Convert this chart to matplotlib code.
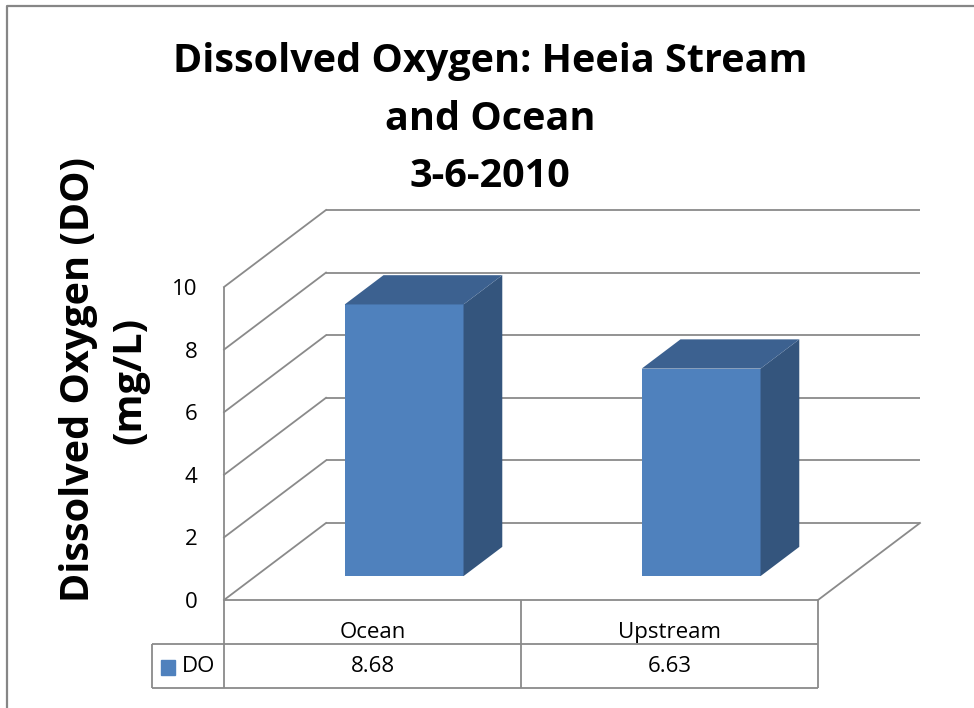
import matplotlib
matplotlib.use("Agg")
import matplotlib.pyplot as plt
import matplotlib.transforms as mtransforms
from matplotlib.patches import Polygon, Rectangle
from matplotlib.lines import Line2D

categories = ["Ocean", "Upstream"]
do_values = [8.68, 6.63]
series_name = "DO"
y_ticks = [0, 2, 4, 6, 8, 10]
value_labels = ["8.68", "6.63"]
title_text = "Dissolved Oxygen: Heeia Stream\nand Ocean\n3-6-2010"
ylabel_text = "Dissolved Oxygen (DO)\n(mg/L)"

FONT = "Open Sans"
FRONT = "#4f81bd"
SIDE = "#34557d"
TOP = "#3c6190"
GRID = "#8a8a8a"

W, H = 974, 708
DX, DY = 102, 77          # pixel shift from front plane to back wall
BAR_W = 0.4
D0, D1 = 0.31, 0.69       # bar depth range (0 = front, 1 = back)

plt.rcParams["font.family"] = [FONT, "DejaVu Sans"]

fig = plt.figure(figsize=(W / 100, H / 100), dpi=100)


def px_box(left, top, right, bottom):
    return [left / W, 1 - bottom / H, (right - left) / W, (bottom - top) / H]


# front plane of the 3d box
ax = fig.add_axes(px_box(224, 287, 818, 600))
ax.set_xlim(0, len(categories))
ax.set_ylim(0, 10)
for s in ax.spines.values():
    s.set_visible(False)
ax.set_xticks([])
ax.set_yticks(y_ticks)
ax.tick_params(axis="y", length=0, pad=19, labelsize=16)
ax.patch.set_visible(False)


def depth(f):
    return ax.transData + mtransforms.Affine2D().translate(DX * f, DY * f)


def proj(x, v, d):
    px, py = ax.transData.transform((x, v))
    return px + DX * d, py + DY * d


def seg(p, q, **kw):
    a, b = proj(*p), proj(*q)
    fig.add_artist(Line2D([a[0], b[0]], [a[1], b[1]],
                          transform=mtransforms.IdentityTransform(), **kw))


line_kw = dict(color=GRID, lw=1.3)
n = len(categories)

# back wall gridlines
ax.hlines(y_ticks, 0, n, transform=depth(1), clip_on=False, **line_kw)
# side wall lines
for v in y_ticks:
    seg((0, v, 0), (0, v, 1), **line_kw)
# floor edges and left edge
ax.hlines(0, 0, n, transform=depth(0), clip_on=False, **line_kw)
seg((n, 0, 0), (n, 0, 1), **line_kw)
ax.vlines(0, 0, 10, clip_on=False, **line_kw)

# bars
xs = [i + 0.5 for i in range(n)]
ax.bar(xs, do_values, width=BAR_W, color=FRONT, transform=depth(D0),
       clip_on=False, zorder=3)
for x, v in zip(xs, do_values):
    x0, x1 = x - BAR_W / 2, x + BAR_W / 2
    side = [proj(x1, 0, D0), proj(x1, 0, D1), proj(x1, v, D1), proj(x1, v, D0)]
    top = [proj(x0, v, D0), proj(x1, v, D0), proj(x1, v, D1), proj(x0, v, D1)]
    for pts, c in ((side, SIDE), (top, TOP)):
        fig.add_artist(Polygon(pts, closed=True, facecolor=c, edgecolor="none",
                               transform=mtransforms.IdentityTransform(), zorder=3))

# data table under the plot
col_px = (818 - 224) / n
left_col = 72 / col_px
tx = fig.add_axes(px_box(152, 600, 818, 688))
tx.set_xlim(-left_col, n)
tx.set_ylim(0, 2)
tx.axis("off")
tx.vlines(range(n + 1), 0, 2, clip_on=False, **line_kw)
tx.vlines(-left_col, 0, 1, clip_on=False, **line_kw)
tx.hlines([0, 1], -left_col, n, clip_on=False, **line_kw)
for x, c, lab in zip(xs, categories, value_labels):
    tx.text(x, 1.27, c, ha="center", va="center", fontsize=16)
    tx.text(x, 0.5, lab, ha="center", va="center", fontsize=16)
kw = left_col / 72
tx.add_patch(Rectangle((-left_col + 9 * kw, 0.3), 14 * kw, 0.34, color=FRONT))
tx.text(-left_col + 30 * kw, 0.5, series_name, ha="left", va="center", fontsize=16)

# titles
fig.text(490 / W, 1 - 42 / H, title_text, ha="center", va="top", fontsize=28.5,
         fontweight="bold", linespacing=1.62)
fig.text(104 / W, 1 - 380 / H, ylabel_text, ha="center", va="center",
         rotation=90, fontsize=28.5, fontweight="bold", linespacing=1.4)

# chart area border
fig.add_artist(Line2D([7 / W, 7 / W, 1], [0, 1 - 6 / H, 1 - 6 / H],
                      transform=fig.transFigure, color="#868686", lw=1.6))

fig.savefig("out.png", dpi=100)
